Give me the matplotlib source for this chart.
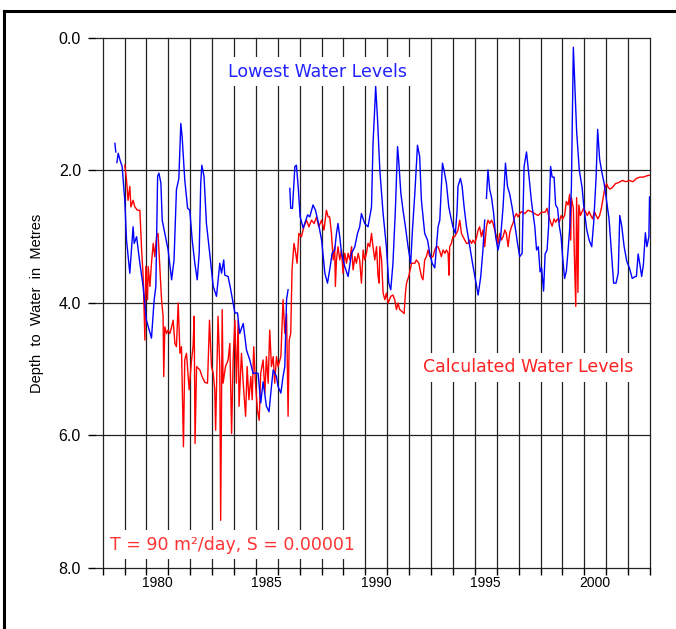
import numpy as np
import matplotlib
matplotlib.use("Agg")
import matplotlib.pyplot as plt
from matplotlib.lines import Line2D

nan = np.nan

# observed lowest water levels (decimal year, depth in metres)
obs_year = [
    1978.56, 1978.60, nan, 1978.65, 1978.71, 1978.79, 1978.89, 1979.01, 1979.09, 1979.24,
    1979.39, 1979.44, 1979.55, 1979.70, 1979.85, 1980.00, 1980.23, 1980.35, 1980.43, 1980.51,
    1980.57, 1980.66, 1980.72, 1980.84, 1980.99, 1981.15, 1981.26, 1981.37, 1981.48, 1981.57,
    1981.63, 1981.75, 1981.88, 1981.98, 1982.09, 1982.21, 1982.32, 1982.41, 1982.48, 1982.53,
    1982.63, 1982.74, 1982.89, 1983.05, 1983.20, 1983.35, 1983.43, 1983.53, 1983.58, 1983.73,
    1983.85, 1983.96, 1984.04, 1984.16, 1984.26, 1984.42, 1984.57, 1984.72, 1984.87, 1985.10,
    1985.22, 1985.33, 1985.48, 1985.60, 1985.71, 1985.79, 1985.94, 1986.01, 1986.14, 1986.24,
    1986.32, 1986.40, 1986.47, nan, 1986.55, 1986.59, 1986.67, 1986.78, 1986.85, 1986.93,
    1987.02, 1987.16, 1987.23, 1987.36, 1987.46, 1987.61, 1987.72, 1987.84, 1988.00, 1988.15,
    1988.27, 1988.37, 1988.48, 1988.60, 1988.68, 1988.75, 1988.83, 1988.91, 1989.06, 1989.21,
    1989.37, 1989.52, 1989.64, 1989.74, 1989.82, 1989.97, 1990.12, 1990.28, 1990.35, 1990.43,
    1990.47, 1990.55, 1990.66, 1990.81, 1990.96, 1991.07, 1991.16, 1991.26, 1991.37, 1991.47,
    1991.52, 1991.62, 1991.72, 1991.83, 1991.95, 1992.07, 1992.15, 1992.26, 1992.38, 1992.48,
    1992.56, 1992.71, 1992.84, 1992.94, 1993.05, 1993.17, 1993.32, 1993.40, 1993.47, 1993.52,
    1993.59, 1993.70, 1993.81, 1993.90, 1994.00, 1994.11, 1994.19, 1994.23, 1994.34, 1994.42,
    1994.51, 1994.62, 1994.77, 1994.92, 1995.03, 1995.15, 1995.27, 1995.37, 1995.45, nan,
    1995.53, 1995.60, 1995.68, 1995.76, 1995.86, 1995.95, 1996.06, 1996.18, 1996.29, 1996.40,
    1996.49, 1996.59, 1996.70, 1996.82, 1996.95, 1997.05, 1997.16, 1997.25, 1997.36, 1997.46,
    1997.58, 1997.74, 1997.82, 1997.90, 1997.98, 1998.05, 1998.14, 1998.21, 1998.30, 1998.37,
    1998.46, 1998.53, 1998.62, 1998.69, 1998.78, 1998.86, 1998.94, 1999.01, 1999.10, 1999.18,
    1999.26, 1999.33, 1999.41, 1999.50, 1999.58, 1999.65, 1999.77, 1999.90, 1999.97, 2000.11,
    2000.22, 2000.34, 2000.43, 2000.54, 2000.61, 2000.70, 2000.81, 2000.91, 2001.02, 2001.13,
    2001.23, 2001.34, 2001.45, 2001.55, 2001.62, 2001.71, 2001.82, 2001.94, 2002.06, 2002.19,
    2002.33, 2002.38, 2002.46, 2002.54, 2002.62, 2002.70, 2002.79, 2002.86, 2002.95, 2002.98,
]
obs_depth = [
    1.59, 1.72, nan, 1.88, 1.74, 1.84, 1.94, 2.45, 3.05, 3.55,
    2.85, 3.10, 3.00, 3.40, 3.75, 4.26, 4.53, 3.96, 3.75, 2.09,
    2.04, 2.19, 2.75, 2.95, 3.20, 3.65, 3.35, 2.29, 2.12, 1.29,
    1.49, 2.14, 2.57, 2.60, 3.05, 3.40, 3.65, 3.25, 2.19, 1.92,
    2.09, 2.80, 3.25, 3.75, 3.90, 3.40, 3.55, 3.35, 3.58, 3.60,
    3.80, 4.00, 4.15, 4.15, 4.46, 4.31, 4.71, 4.86, 5.06, 5.06,
    5.51, 5.19, 5.56, 5.64, 5.26, 5.01, 5.11, 5.26, 5.36, 5.11,
    4.96, 3.95, 3.80, nan, 2.27, 2.57, 2.57, 1.94, 1.92, 2.24,
    2.70, 2.87, 2.80, 2.67, 2.70, 2.52, 2.60, 2.77, 3.05, 3.55,
    3.70, 3.50, 3.25, 3.20, 2.95, 2.80, 3.00, 3.25, 3.45, 3.60,
    3.25, 3.15, 2.95, 2.85, 2.65, 2.80, 2.85, 2.55, 1.59, 1.04,
    0.73, 1.19, 1.99, 2.65, 3.15, 3.70, 3.80, 3.40, 2.60, 1.64,
    1.84, 2.34, 2.60, 2.85, 3.15, 3.40, 2.90, 2.34, 1.62, 1.79,
    2.45, 2.95, 3.05, 3.25, 3.40, 3.47, 2.85, 2.75, 2.24, 1.89,
    1.99, 2.19, 2.55, 2.70, 2.85, 2.95, 2.60, 2.24, 2.12, 2.24,
    2.55, 2.85, 3.15, 3.45, 3.65, 3.88, 3.60, 3.20, 2.75, nan,
    2.42, 1.99, 2.29, 2.40, 2.65, 3.00, 3.20, 3.00, 2.55, 1.89,
    2.24, 2.35, 2.55, 2.80, 3.10, 3.30, 3.25, 1.94, 1.72, 2.04,
    2.45, 2.85, 3.20, 3.15, 3.53, 3.47, 3.82, 3.26, 3.20, 2.84,
    1.94, 2.10, 2.10, 2.52, 2.57, 2.84, 3.00, 3.31, 3.63, 3.52,
    3.20, 2.89, 2.26, 0.14, 0.82, 1.41, 1.99, 2.26, 2.52, 2.89,
    3.05, 3.15, 2.78, 2.10, 1.38, 1.83, 2.04, 2.20, 2.47, 2.73,
    3.20, 3.70, 3.70, 3.55, 2.68, 2.84, 3.15, 3.37, 3.47, 3.63,
    3.60, 3.60, 3.26, 3.42, 3.60, 3.42, 2.94, 3.15, 3.00, 2.40,
]

# calculated water levels
calc_year = [
    1979.01, 1979.09, 1979.16, 1979.24, 1979.29, 1979.39, 1979.47, 1979.59, 1979.70, 1979.78,
    1979.85, 1979.93, 1979.97, 1980.05, 1980.08, 1980.16, 1980.23, 1980.31, 1980.38, 1980.46,
    1980.53, 1980.61, 1980.69, 1980.76, 1980.79, 1980.84, 1980.92, 1980.99, 1981.07, 1981.15,
    1981.22, 1981.30, 1981.37, 1981.45, 1981.53, 1981.60, 1981.69, 1981.75, 1981.83, 1981.95,
    1982.06, 1982.13, 1982.18, 1982.22, 1982.29, 1982.44, 1982.54, 1982.67, 1982.79, 1982.88,
    1982.97, 1983.05, 1983.12, 1983.16, 1983.27, 1983.35, 1983.39, 1983.46, 1983.50, 1983.61,
    1983.73, 1983.81, 1983.89, 1983.96, 1984.04, 1984.11, 1984.19, 1984.23, 1984.34, 1984.42,
    1984.53, 1984.60, 1984.68, 1984.77, 1984.83, 1984.90, 1984.98, 1985.07, 1985.15, 1985.22,
    1985.33, 1985.41, 1985.48, 1985.56, 1985.63, 1985.71, 1985.79, 1985.86, 1985.94, 1986.01,
    1986.14, 1986.24, 1986.32, 1986.40, 1986.47, 1986.52, 1986.59, 1986.65, 1986.74, 1986.82,
    1986.88, 1986.96, 1987.08, 1987.19, 1987.31, 1987.42, 1987.54, 1987.66, 1987.77, 1987.87,
    1988.00, 1988.11, 1988.22, 1988.30, 1988.37, 1988.45, 1988.53, 1988.60, 1988.63, 1988.68,
    1988.75, 1988.83, 1988.91, 1988.98, 1989.06, 1989.14, 1989.21, 1989.29, 1989.37, 1989.44,
    1989.52, 1989.59, 1989.67, 1989.74, 1989.82, 1989.90, 1989.97, 1990.05, 1990.12, 1990.20,
    1990.28, 1990.35, 1990.43, 1990.51, 1990.58, 1990.63, 1990.66, 1990.74, 1990.81, 1990.89,
    1990.96, 1991.04, 1991.16, 1991.26, 1991.34, 1991.42, 1991.49, 1991.57, 1991.68, 1991.77,
    1991.83, 1991.88, 1991.98, 1992.11, 1992.26, 1992.33, 1992.44, 1992.56, 1992.63, 1992.71,
    1992.79, 1992.86, 1992.94, 1993.02, 1993.09, 1993.17, 1993.24, 1993.32, 1993.40, 1993.47,
    1993.55, 1993.63, 1993.70, 1993.78, 1993.82, 1993.85, 1993.93, 1994.00, 1994.08, 1994.16,
    1994.23, 1994.31, 1994.39, 1994.46, 1994.54, 1994.62, 1994.69, 1994.77, 1994.85, 1994.92,
    1995.00, 1995.07, 1995.15, 1995.22, 1995.30, 1995.37, 1995.45, 1995.53, 1995.60, 1995.68,
    1995.76, 1995.83, 1995.91, 1995.99, 1996.06, 1996.14, 1996.21, 1996.29, 1996.37, 1996.44,
    1996.52, 1996.59, 1996.67, 1996.74, 1996.82, 1996.90, 1996.97, 1997.05, 1997.13, 1997.28,
    1997.43, 1997.58, 1997.73, 1997.89, 1998.04, 1998.21, 1998.30, 1998.37, 1998.46, 1998.53,
    1998.62, 1998.69, 1998.78, 1998.86, 1998.94, 1999.01, 1999.10, 1999.18, 1999.26, 1999.33,
    1999.38, 1999.41, 1999.50, 1999.54, 1999.61, 1999.65, 1999.71, 1999.75, 1999.82, 1999.90,
    1999.97, 2000.06, 2000.14, 2000.22, 2000.30, 2000.38, 2000.46, 2000.54, 2000.62, 2000.70,
    2000.78, 2000.86, 2000.94, 2001.02, 2001.10, 2001.18, 2001.27, 2001.42, 2001.58, 2001.74,
    2001.90, 2002.06, 2002.22, 2002.38, 2002.54, 2002.70, 2002.86, 2003.00,
]
calc_depth = [
    1.92, 2.14, 2.45, 2.24, 2.55, 2.45, 2.55, 2.60, 2.60, 3.20,
    3.60, 4.56, 3.45, 3.95, 3.45, 3.75, 3.40, 3.10, 3.30, 3.00,
    2.95, 3.45, 3.95, 4.20, 5.11, 4.36, 4.46, 4.41, 4.46, 4.36,
    4.26, 4.61, 4.66, 4.00, 4.76, 4.66, 6.17, 4.86, 4.76, 5.31,
    4.86, 4.66, 4.20, 6.12, 4.96, 5.01, 5.11, 5.20, 5.21, 4.26,
    4.96, 5.06, 5.31, 5.92, 4.20, 4.96, 7.28, 4.10, 5.21, 4.96,
    4.86, 4.61, 5.97, 4.86, 4.26, 5.21, 4.26, 5.56, 4.76, 5.21,
    5.71, 4.96, 5.46, 5.11, 5.46, 4.66, 5.21, 5.62, 5.77, 5.06,
    4.86, 5.36, 4.81, 5.21, 4.41, 4.96, 4.81, 5.21, 4.81, 4.96,
    4.81, 3.95, 4.46, 4.16, 5.71, 4.56, 4.46, 3.50, 3.10, 3.25,
    3.40, 2.95, 3.00, 2.85, 2.75, 2.85, 2.75, 2.80, 2.70, 2.85,
    2.75, 2.90, 2.60, 2.70, 2.70, 2.95, 3.35, 3.15, 3.75, 3.35,
    3.15, 3.35, 3.20, 3.55, 3.25, 3.40, 3.25, 3.35, 3.15, 3.50,
    3.30, 3.40, 3.25, 3.35, 3.70, 3.20, 3.35, 3.25, 3.10, 3.15,
    2.95, 3.15, 3.35, 3.15, 3.60, 3.70, 3.15, 3.35, 3.85, 3.95,
    3.85, 4.00, 3.90, 3.88, 3.95, 4.10, 4.00, 4.10, 4.13, 4.16,
    3.85, 3.70, 3.60, 3.40, 3.40, 3.35, 3.40, 3.60, 3.65, 3.35,
    3.30, 3.20, 3.30, 3.30, 3.30, 3.20, 3.15, 3.15, 3.22, 3.30,
    3.20, 3.25, 3.20, 3.25, 3.58, 3.15, 3.10, 3.00, 3.00, 2.95,
    2.90, 2.75, 2.95, 3.00, 3.05, 3.10, 3.10, 3.05, 3.10, 3.05,
    3.10, 3.02, 2.90, 2.85, 3.00, 2.90, 3.15, 2.85, 2.75, 2.80,
    2.75, 2.80, 2.90, 3.00, 3.10, 2.95, 3.05, 3.00, 2.90, 2.95,
    3.15, 2.95, 2.85, 2.80, 2.70, 2.65, 2.70, 2.65, 2.62, 2.65,
    2.60, 2.62, 2.65, 2.68, 2.63, 2.63, 2.57, 2.68, 2.78, 2.84,
    2.73, 2.78, 2.73, 2.78, 2.68, 2.73, 2.68, 2.47, 2.52, 2.36,
    3.05, 2.41, 2.57, 3.20, 4.05, 2.41, 3.84, 2.52, 2.68, 2.62,
    2.57, 2.63, 2.68, 2.62, 2.68, 2.73, 2.62, 2.68, 2.73, 2.68,
    2.57, 2.41, 2.26, 2.20, 2.26, 2.28, 2.26, 2.20, 2.18, 2.15,
    2.17, 2.15, 2.17, 2.12, 2.10, 2.10, 2.08, 2.07,
]

years = list(range(1978, 2004))
label_years = [1980, 1985, 1990, 1995, 2000]
depth_ticks = [0, 2, 4, 6, 8]

fig = plt.figure(figsize=(6.76, 6.29), dpi=100)
ax = fig.add_axes([0.1402, 0.0970, 0.8213, 0.8426])

# frame around the figure (only top and left visible)
fig.add_artist(Line2D([4 / 676, 4 / 676], [0, 1 - 11 / 629], color="black", lw=2.2))
fig.add_artist(Line2D([4 / 676, 1], [1 - 11 / 629, 1 - 11 / 629], color="black", lw=2.2))

ax.plot(calc_year, calc_depth, color="#ff0000", lw=1.0, zorder=3)
ax.plot(obs_year, obs_depth, color="#0000ff", lw=1.0, zorder=4)

ax.set_xlim(1977.64, 2003.0)
ax.set_ylim(8, 0)

for s in ax.spines.values():
    s.set_visible(False)

ax.set_xticks(years)
ax.set_xticklabels([])
ax.set_xticks([y + 0.5 for y in label_years], minor=True)
ax.set_xticklabels([str(y) for y in label_years], minor=True,
                   fontsize=10, family="Liberation Sans")
ax.tick_params(axis="x", which="major", direction="out", length=5, width=1, color="black")
ax.tick_params(axis="x", which="minor", length=0, pad=6)

ax.set_yticks(depth_ticks)
ax.set_yticklabels([f"{d:.1f}" for d in depth_ticks], fontsize=11.5, family="Liberation Sans")
ax.tick_params(axis="y", direction="out", length=5, width=1, color="black", pad=5)

ax.grid(True, which="major", color="#222222", lw=0.9)
ax.set_axisbelow(True)
for gl in ax.get_xgridlines() + ax.get_ygridlines():
    gl.set_clip_on(False)

ax.set_ylabel("Depth  to  Water  in  Metres", fontsize=10.5, family="Liberation Sans")
ax.yaxis.set_label_coords(-0.092, 0.5)

box = dict(facecolor="white", edgecolor="none", pad=4)
ax.text(1987.83, 0.51, "Lowest Water Levels", color="#2222ff", fontsize=12.5,
        ha="center", va="center", bbox=box, zorder=5)
ax.text(1997.42, 4.97, "Calculated Water Levels", color="#ff2222", fontsize=12.5,
        ha="center", va="center", bbox=box, zorder=5)
ax.text(1983.95, 7.65, "T = 90 m²/day, S = 0.00001", color="#ff3333", fontsize=12.5,
        ha="center", va="center", bbox=box, zorder=5)

fig.savefig("out.png", dpi=100)
